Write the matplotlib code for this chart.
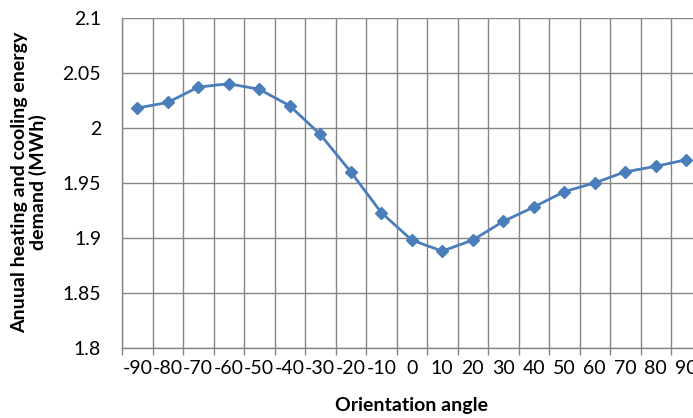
import numpy as np
import matplotlib
matplotlib.use("Agg")
import matplotlib.pyplot as plt
from matplotlib.ticker import FixedLocator

# Orientation angles (degrees) and annual heating + cooling demand (MWh)
angles = [-90, -80, -70, -60, -50, -40, -30, -20, -10, 0,
          10, 20, 30, 40, 50, 60, 70, 80, 90]
demand = [2.018, 2.023, 2.037, 2.040, 2.035, 2.020, 1.994, 1.960, 1.923, 1.898,
          1.888, 1.898, 1.915, 1.928, 1.942, 1.950, 1.960, 1.965, 1.971]
tick_labels = [str(a) for a in angles]
y_ticks = [1.8, 1.85, 1.9, 1.95, 2.0, 2.05, 2.1]
y_tick_labels = ['1.8', '1.85', '1.9', '1.95', '2', '2.05', '2.1']

plt.rcParams['font.family'] = ['Lato', 'DejaVu Sans']

fig = plt.figure(figsize=(6.93, 4.18), dpi=100)
ax = fig.add_axes([122 / 693, 70 / 418, 579.5 / 693, 330.3 / 418])

grid_color = '#868686'
line_color = '#4A7EBB'

ax.plot(angles, demand, color=line_color, lw=2.0, marker='D', ms=6.5,
        mec=line_color, mfc=line_color, zorder=3, clip_on=False)

ax.set_xlim(-95, 95)
ax.set_ylim(1.8, 2.1)

ax.set_xticks(angles)
ax.set_xticklabels(tick_labels)
ax.xaxis.set_minor_locator(FixedLocator(np.arange(-95, 96, 10)))
ax.set_yticks(y_ticks)
ax.set_yticklabels(y_tick_labels)

ax.grid(True, which='minor', axis='x', color=grid_color, lw=1.0)
ax.grid(True, which='major', axis='y', color=grid_color, lw=1.0)
ax.set_axisbelow(True)

ax.tick_params(axis='x', which='major', length=0, pad=9, labelsize=14)
ax.tick_params(axis='x', which='minor', length=5, width=1.0, color=grid_color,
               direction='out')
ax.tick_params(axis='y', which='major', length=0, pad=15, labelsize=14)

for side in ['top', 'right']:
    ax.spines[side].set_visible(False)
for side in ['left', 'bottom']:
    ax.spines[side].set_color(grid_color)
    ax.spines[side].set_linewidth(1.0)

fig.text(411.75 / 693, 1 - 405 / 418, 'Orientation angle', fontsize=14,
         fontweight='bold', ha='center', va='center')
fig.text(29 / 693, 1 - 182 / 418, 'Anuual heating and cooling energy\ndemand (MWh)',
         fontsize=14, fontweight='bold', ha='center', va='center',
         rotation=90, linespacing=1.0, multialignment='center')

fig.savefig('out.png', dpi=100)
